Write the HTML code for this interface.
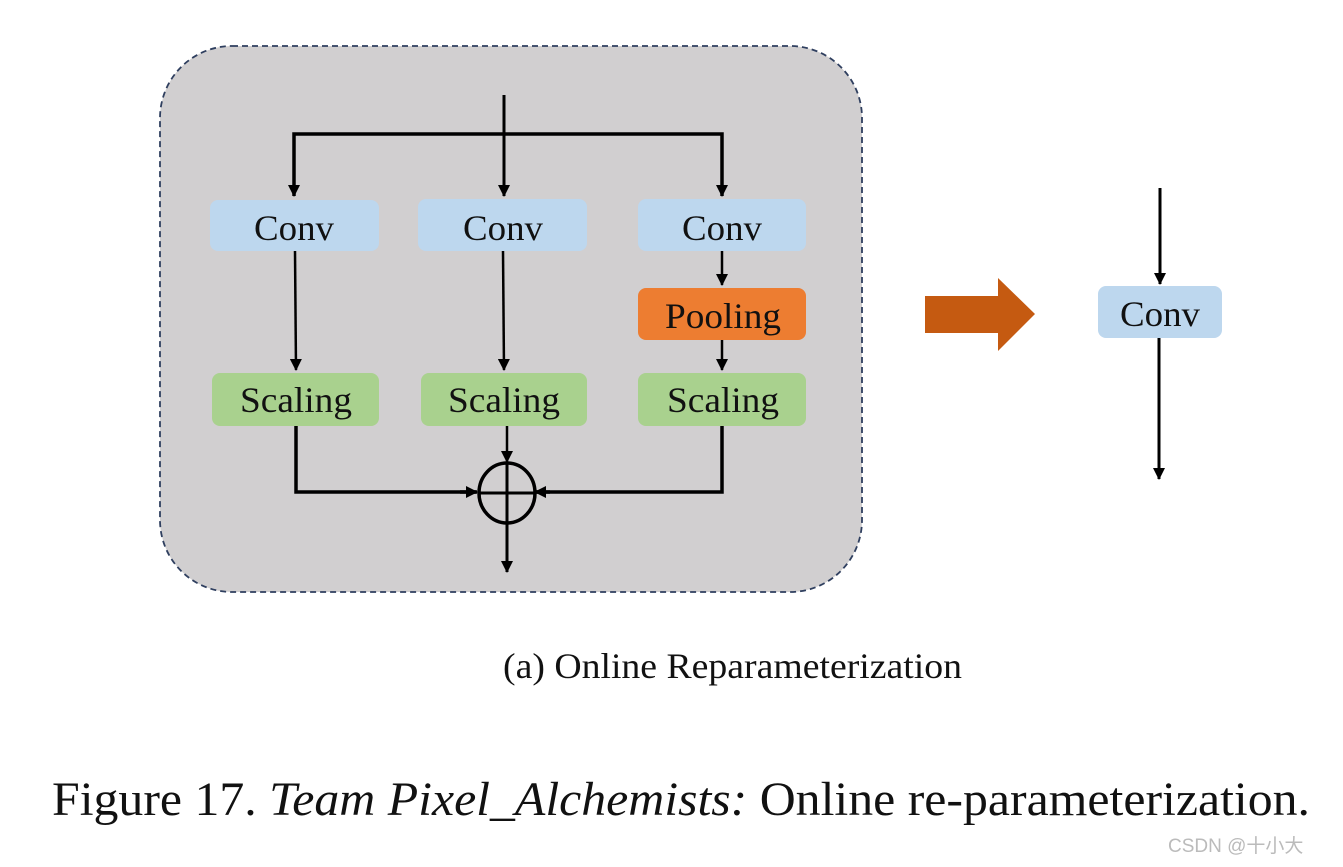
<!DOCTYPE html>
<html><head><meta charset="utf-8"><style>html,body{margin:0;padding:0;background:#fff;}svg{display:block}</style></head>
<body>
<svg width="1343" height="867" viewBox="0 0 1343 867" xmlns="http://www.w3.org/2000/svg" font-family="Liberation Serif, serif">
<defs>
<marker id="ah" markerWidth="8" markerHeight="8" refX="7" refY="4" orient="auto" markerUnits="userSpaceOnUse" viewBox="0 0 8 8">
<path d="M0,0 L8,4 L0,8 z" fill="#000"/></marker>
<marker id="ah2" markerWidth="12" markerHeight="12" refX="11" refY="6" orient="auto" markerUnits="userSpaceOnUse" viewBox="0 0 12 12">
<path d="M0,0 L12,6 L0,12 z" fill="#000"/></marker>
</defs>
<rect x="160" y="46" width="702" height="546" rx="72" fill="#d1cfd0" stroke="#2f3f5f" stroke-width="1.8" stroke-dasharray="6,4"/>
<g stroke="#000" stroke-width="3" fill="none">
<line x1="504" y1="95" x2="504" y2="196" marker-end="url(#ah2)"/>
<polyline points="294,196 294,134 722,134 722,196" stroke-width="3.5"/>
<line x1="294" y1="180" x2="294" y2="196" marker-end="url(#ah2)"/>
<line x1="722" y1="180" x2="722" y2="196" marker-end="url(#ah2)"/>
<line x1="295" y1="251" x2="296" y2="370" stroke-width="2.5" marker-end="url(#ah2)"/>
<line x1="503" y1="251" x2="504" y2="370" stroke-width="2.5" marker-end="url(#ah2)"/>
<line x1="722" y1="251" x2="722" y2="285" stroke-width="2.5" marker-end="url(#ah2)"/>
<line x1="722" y1="340" x2="722" y2="370" stroke-width="2.5" marker-end="url(#ah2)"/>
<line x1="507" y1="426" x2="507" y2="462" stroke-width="2.5" marker-end="url(#ah2)"/>
<polyline points="296,426 296,492 476,492" stroke-width="3.5"/>
<line x1="460" y1="492" x2="477" y2="492" stroke-width="3.5" marker-end="url(#ah2)"/>
<polyline points="722,426 722,492 536,492" stroke-width="3.5"/>
<line x1="550" y1="492" x2="535" y2="492" stroke-width="3.5" marker-end="url(#ah2)"/>
<ellipse cx="507" cy="493" rx="28" ry="30" stroke-width="3.5"/>
<line x1="479" y1="493" x2="535" y2="493" stroke-width="3"/>
<line x1="507" y1="463" x2="507" y2="572" stroke-width="3" marker-end="url(#ah2)"/>
<line x1="1160" y1="188" x2="1160" y2="284" stroke-width="3" marker-end="url(#ah2)"/>
<line x1="1159" y1="338" x2="1159" y2="479" stroke-width="3" marker-end="url(#ah2)"/>
</g>
<g font-size="36" text-anchor="middle" fill="#111">
<rect x="210" y="200" width="169" height="51" rx="8" fill="#bdd7ee"/>
<text x="294" y="240" textLength="80" lengthAdjust="spacingAndGlyphs">Conv</text>
<rect x="418" y="199" width="169" height="52" rx="8" fill="#bdd7ee"/>
<text x="503" y="240" textLength="80" lengthAdjust="spacingAndGlyphs">Conv</text>
<rect x="638" y="199" width="168" height="52" rx="8" fill="#bdd7ee"/>
<text x="722" y="240" textLength="80" lengthAdjust="spacingAndGlyphs">Conv</text>
<rect x="638" y="288" width="168" height="52" rx="8" fill="#ed7d31"/>
<text x="723" y="328" textLength="116" lengthAdjust="spacingAndGlyphs">Pooling</text>
<rect x="212" y="373" width="167" height="53" rx="8" fill="#a9d18e"/>
<text x="296" y="412" textLength="112" lengthAdjust="spacingAndGlyphs">Scaling</text>
<rect x="421" y="373" width="166" height="53" rx="8" fill="#a9d18e"/>
<text x="504" y="412" textLength="112" lengthAdjust="spacingAndGlyphs">Scaling</text>
<rect x="638" y="373" width="168" height="53" rx="8" fill="#a9d18e"/>
<text x="723" y="412" textLength="112" lengthAdjust="spacingAndGlyphs">Scaling</text>
<rect x="1098" y="286" width="124" height="52" rx="8" fill="#bdd7ee"/>
<text x="1160" y="326" textLength="80" lengthAdjust="spacingAndGlyphs">Conv</text>
</g>
<polygon points="925,296 998,296 998,278 1035,314 998,351 998,333 925,333" fill="#c55a11"/>
<text x="503" y="678" font-size="36" fill="#111" textLength="459" lengthAdjust="spacingAndGlyphs">(a) Online Reparameterization</text>
<text x="52" y="815" font-size="48" fill="#111" textLength="1258" lengthAdjust="spacingAndGlyphs">Figure 17. <tspan font-style="italic">Team Pixel_Alchemists:</tspan> Online re-parameterization.</text>
<text x="1168" y="852" font-size="19" fill="#bbb" font-family="Liberation Sans, Noto Sans CJK SC, sans-serif">CSDN @十小大</text>
</svg>
</body></html>
